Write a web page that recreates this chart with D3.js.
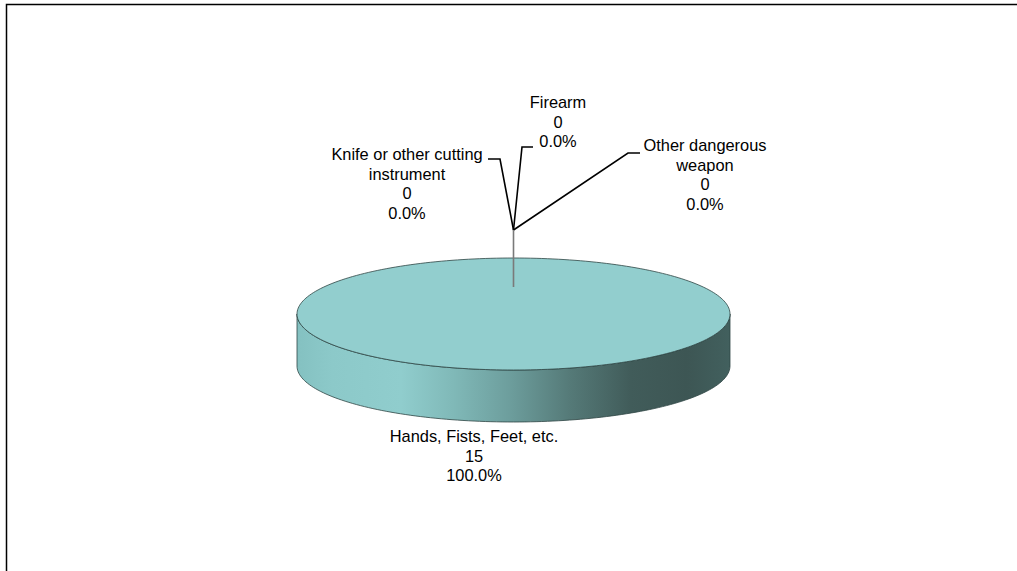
<!DOCTYPE html>
<html>
<head>
<meta charset="utf-8">
<script src="https://cdn.jsdelivr.net/npm/d3@7"></script>
<style>
  html, body { margin: 0; padding: 0; background: #fff; }
  svg { display: block; }
  text { font-family: "Liberation Sans", Arial, sans-serif; font-size: 16.4px; fill: #000; }
</style>
</head>
<body>
<svg id="chart" width="1017" height="571"></svg>
<script>
// Weapon categories and their counts
const categories = [
  "Hands, Fists, Feet, etc.",
  "Knife or other cutting instrument",
  "Firearm",
  "Other dangerous weapon"
];
const values = [15, 0, 0, 0];
// Label text lines per category (name may wrap)
const labelNames = [
  ["Hands, Fists, Feet, etc."],
  ["Knife or other cutting", "instrument"],
  ["Firearm"],
  ["Other dangerous", "weapon"]
];

const W = 1017, H = 571;
const svg = d3.select("#chart");

// Chart frame
svg.append("rect")
  .attr("x", 6.5).attr("y", 4.5)
  .attr("width", W + 10).attr("height", H + 10)
  .attr("fill", "none").attr("stroke", "#000").attr("stroke-width", 1.5);

// 3D pie geometry
const cx = 513.5, cy = 314, rx = 216.5, ry = 56, depth = 52;
const total = d3.sum(values);
const pct = d3.format(".1%");

const pie = d3.pie().sort(null).value(d => d)
  .startAngle(0).endAngle(2 * Math.PI);
const arcs = pie(values);

// Project a pie angle (0 = back/top, clockwise) onto the tilted ellipse
function pt(angle, rFrac, dy) {
  return [cx + rx * rFrac * Math.sin(angle), cy - ry * rFrac * Math.cos(angle) + (dy || 0)];
}

const defs = svg.append("defs");
const grad = defs.append("linearGradient")
  .attr("id", "sideGrad")
  .attr("gradientUnits", "userSpaceOnUse")
  .attr("x1", cx - rx).attr("x2", cx + rx).attr("y1", 0).attr("y2", 0);
[
  [0.00, "#84c1c1"],
  [0.08, "#8cc9c9"],
  [0.24, "#90cdcd"],
  [0.36, "#80b9b8"],
  [0.49, "#6d9e9d"],
  [0.63, "#557a78"],
  [0.77, "#415c5a"],
  [0.90, "#3d5654"],
  [1.00, "#42605e"]
].forEach(([o, c]) => grad.append("stop").attr("offset", o).attr("stop-color", c));

const colors = ["#92cece", "#6f8fc6", "#c88d7e", "#9eb96f"];

// Side wall: front half of each slice that faces the viewer
arcs.forEach((a, i) => {
  if (a.endAngle - a.startAngle <= 0) return;
  const s = Math.max(a.startAngle, Math.PI / 2);
  const e = Math.min(a.endAngle, 3 * Math.PI / 2);
  if (e <= s) return;
  const n = 120;
  const top = d3.range(n + 1).map(k => pt(s + (e - s) * k / n, 1, 0));
  const bot = top.map(p => [p[0], p[1] + depth]).reverse();
  svg.append("path")
    .attr("d", d3.line()(top.concat(bot)) + "Z")
    .attr("fill", i === 0 ? "url(#sideGrad)" : colors[i])
    .attr("stroke", "#2f4544").attr("stroke-width", 0.8);
});

// Top faces
arcs.forEach((a, i) => {
  if (a.endAngle - a.startAngle <= 0) return;
  const n = 240;
  const ptsArr = d3.range(n + 1).map(k => pt(a.startAngle + (a.endAngle - a.startAngle) * k / n, 1, 0));
  const full = (a.endAngle - a.startAngle) >= 2 * Math.PI - 1e-9;
  const d = full ? d3.line()(ptsArr) + "Z" : "M" + cx + "," + cy + "L" + d3.line()(ptsArr).slice(1) + "Z";
  svg.append("path")
    .attr("d", d)
    .attr("fill", colors[i])
    .attr("stroke", "#2f4544").attr("stroke-width", 0.8);
});

// Labels for each slice
const lineH = 19.7;
const labelLayout = [
  { x: 474, y: 442 },                                       // Hands...
  { x: 407, y: 160, elbow: [500, 159], end: [488, 159] },   // Knife
  { x: 558, y: 108, elbow: [522, 147], end: [533, 147] },   // Firearm
  { x: 705, y: 151, elbow: [628, 153], end: [640, 153] }    // Other
];
const hub = [cx, 230];

arcs.forEach((a, i) => {
  const L = labelLayout[i];
  const lines = labelNames[i].concat([String(values[i]), pct(total ? values[i] / total : 0)]);
  const t = svg.append("text").attr("text-anchor", "middle");
  lines.forEach((s, k) => {
    t.append("tspan").attr("x", L.x).attr("y", L.y + k * lineH).text(s);
  });
  if (L.elbow) {
    svg.append("path")
      .attr("d", d3.line()([hub, L.elbow, L.end]))
      .attr("fill", "none").attr("stroke", "#000").attr("stroke-width", 1.6);
  }
});

// Shared leader stem from the zero-size slices (mid-radius at angle 0)
const zeroAngle = arcs[1].startAngle;
const anchorPt = pt(zeroAngle, 0.5, 0);
svg.append("line")
  .attr("x1", hub[0]).attr("y1", hub[1])
  .attr("x2", anchorPt[0]).attr("y2", anchorPt[1] + 1)
  .attr("stroke", "#7a7a7a").attr("stroke-width", 1.6);
</script>
</body>
</html>
